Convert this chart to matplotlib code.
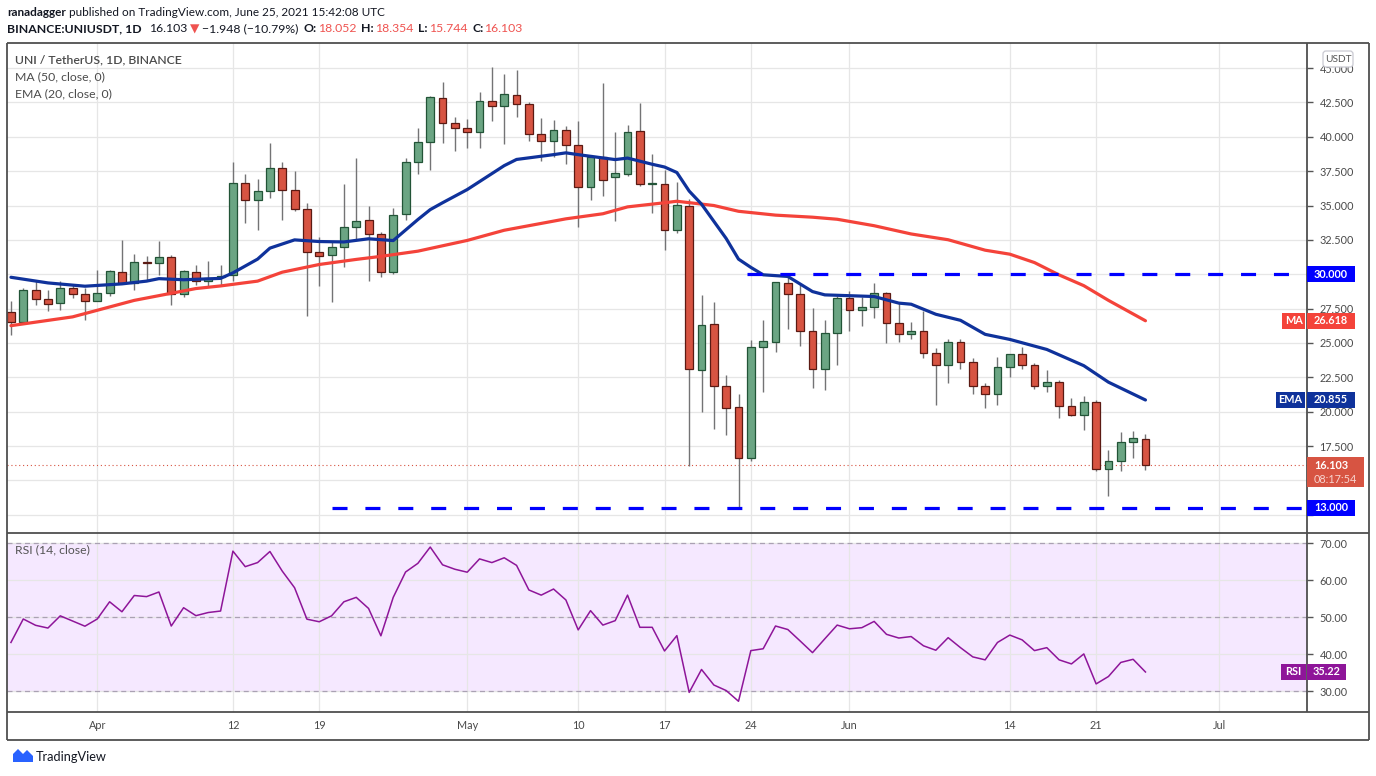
import numpy as np
import pandas as pd
import matplotlib
matplotlib.use("Agg")
import matplotlib.pyplot as plt
from matplotlib.patches import Rectangle, FancyBboxPatch, Polygon
from matplotlib.transforms import Affine2D
from matplotlib.lines import Line2D

# ---------------- data ----------------
start_date = "2021-03-25"

opens = [27.23, 26.53, 28.86, 28.20, 27.91, 29.00, 28.57, 28.06, 28.64, 30.17,
         29.37, 30.90, 30.83, 31.26, 28.57, 30.17, 29.51, 29.80, 29.95, 36.65,
         35.41, 36.07, 37.74, 36.14, 34.76, 31.63, 31.39, 32.00, 33.45, 33.96,
         32.94, 30.18, 34.37, 38.17, 39.62, 42.82, 41.00, 40.64, 40.35, 42.60,
         42.24, 43.04, 42.39, 40.21, 39.70, 40.50, 39.41, 36.36, 38.54, 37.08,
         37.30, 40.45, 36.57, 36.58, 33.19, 34.95, 23.07, 26.36, 21.90, 20.37,
         16.65, 24.68, 25.04, 29.35, 28.55, 25.85, 23.14, 25.70, 28.25, 27.40,
         27.60, 28.67, 26.45, 25.68, 25.90, 24.29, 23.41, 25.09, 23.63, 21.88,
         21.30, 23.27, 24.22, 23.41, 21.88, 22.17, 20.42, 19.76, 20.71, 15.82,
         16.41, 17.79, 18.052]
highs = [28.08, 29.00, 29.50, 28.88, 29.54, 29.32, 29.00, 30.34, 30.34, 32.52,
         31.50, 31.30, 32.45, 31.43, 30.34, 30.70, 31.00, 30.70, 38.20, 37.26,
         36.96, 39.58, 38.20, 37.54, 35.15, 32.72, 32.34, 36.60, 38.46, 34.95,
         33.04, 34.85, 38.49, 40.67, 42.95, 44.00, 41.42, 41.32, 43.28, 45.05,
         44.59, 44.88, 42.53, 41.39, 41.25, 40.76, 41.17, 38.60, 43.90, 40.33,
         40.88, 42.43, 38.78, 37.60, 36.70, 35.48, 28.50, 27.99, 22.66, 21.27,
         25.21, 26.67, 29.42, 29.88, 29.40, 27.57, 26.67, 28.42, 28.77, 28.38,
         29.35, 28.72, 27.94, 26.53, 27.33, 24.65, 25.26, 25.26, 23.92, 22.10,
         24.00, 24.22, 24.73, 23.56, 23.00, 22.34, 21.03, 21.13, 20.88, 17.23,
         18.55, 18.62, 18.354]
lows = [25.60, 26.45, 27.74, 27.30, 27.43, 28.28, 26.65, 28.03, 28.40, 29.32,
        28.88, 29.60, 29.98, 27.74, 28.33, 29.20, 29.13, 29.17, 29.49, 33.70,
        33.21, 35.53, 33.93, 34.59, 26.96, 29.14, 27.98, 30.54, 32.58, 29.50,
        29.79, 29.99, 33.98, 37.28, 37.57, 39.53, 38.95, 39.16, 39.16, 41.13,
        39.48, 41.44, 39.67, 38.22, 38.54, 38.03, 33.43, 35.39, 35.68, 33.86,
        37.13, 36.45, 34.44, 31.73, 33.00, 16.02, 19.98, 18.77, 18.28, 13.05,
        16.40, 21.44, 24.36, 26.04, 24.80, 21.76, 21.56, 23.39, 25.90, 26.26,
        26.84, 25.00, 25.07, 25.29, 23.90, 20.47, 22.10, 23.12, 21.27, 20.27,
        20.52, 22.54, 23.12, 21.66, 21.42, 19.52, 19.70, 18.64, 15.72, 13.90,
        15.72, 16.60, 15.744]
closes = [26.53, 28.86, 28.20, 27.84, 29.00, 28.57, 28.06, 28.64, 30.24, 29.37,
          30.90, 30.80, 31.26, 28.57, 30.24, 29.49, 29.70, 29.88, 36.65, 35.41,
          36.07, 37.74, 36.14, 34.76, 31.63, 31.34, 32.00, 33.45, 33.89, 32.94,
          30.18, 34.32, 38.17, 39.62, 42.89, 41.00, 40.64, 40.35, 42.60, 42.24,
          43.11, 42.39, 40.21, 39.70, 40.50, 39.41, 36.36, 38.54, 36.86, 37.37,
          40.38, 36.57, 36.60, 33.19, 35.07, 23.14, 26.28, 21.90, 20.30, 16.65,
          24.68, 25.12, 29.42, 28.55, 25.85, 23.14, 25.70, 28.25, 27.40, 27.60,
          28.67, 26.45, 25.68, 25.90, 24.29, 23.41, 25.09, 23.63, 21.88, 21.30,
          23.27, 24.22, 23.41, 21.88, 22.17, 20.42, 19.76, 20.71, 15.82, 16.41,
          17.79, 18.08, 16.103]

rsi_values = [43.2, 49.55, 47.84, 47.1, 50.4, 49.0, 47.6, 49.55, 54.2, 51.5,
              55.9, 55.6, 56.85, 47.65, 52.6, 50.45, 51.3, 51.7, 67.9, 63.7,
              64.8, 67.8, 62.5, 58.0, 49.5, 48.8, 50.4, 54.2, 55.4, 52.4,
              45.0, 55.4, 62.25, 64.6, 69.0, 64.2, 63.0, 62.2, 65.8, 64.8,
              66.1, 64.05, 57.4, 56.0, 57.65, 54.7, 46.6, 51.8, 47.9, 49.1,
              56.0, 47.3, 47.3, 40.9, 45.05, 29.7, 35.9, 31.7, 30.2, 27.3,
              41.0, 41.5, 47.65, 46.7, 43.6, 40.45, 44.2, 47.9, 46.9, 47.2,
              48.9, 45.4, 44.4, 44.8, 42.3, 41.1, 44.5, 41.8, 39.3, 38.5,
              43.2, 45.2, 43.9, 41.0, 41.8, 38.5, 37.4, 40.1, 32.0, 34.0,
              37.8, 38.65, 35.22]

# moving averages (day number since start, value)
ema_days = [0, 3, 6, 9, 11, 12, 14, 17, 18, 20, 21, 23, 25, 27, 29, 31, 33, 34, 35, 37,
            40, 41, 44, 45, 46, 49, 50, 52, 53, 54, 55, 56, 57, 58, 59, 60, 61, 63, 65, 66,
            70, 72, 73, 75, 77, 79, 81, 84, 87, 89, 92]
ema_vals = [29.78, 29.37, 29.13, 29.30, 29.50, 29.68, 29.60, 29.70, 30.10, 31.10,
            31.90, 32.50, 32.38, 32.35, 32.58, 32.45, 33.98, 34.70, 35.20, 36.16,
            37.90, 38.35, 38.70, 38.83, 38.70, 38.34, 38.45, 38.00, 37.80, 37.40,
            36.05, 35.10, 33.85, 32.60, 31.10, 30.50, 29.96, 29.84, 28.74, 28.50,
            28.38, 27.90, 27.82, 27.09, 26.65, 25.63, 25.26, 24.53, 23.35, 22.15,
            20.855]
ma_days = [0, 5, 10, 15, 17, 20, 22, 25, 28, 30, 33, 37, 40, 45, 48, 50, 53, 54, 57,
           59, 62, 65, 67, 70, 73, 76, 79, 81, 83, 85, 87, 89, 92]
ma_vals = [26.26, 26.90, 28.10, 28.96, 29.15, 29.50, 30.15, 30.71, 31.08, 31.30,
           31.68, 32.46, 33.20, 34.03, 34.40, 34.90, 35.20, 35.31, 35.00, 34.58,
           34.30, 34.15, 34.00, 33.53, 32.93, 32.51, 31.75, 31.46, 30.85, 29.95,
           29.17, 28.10, 26.618]

resistance_level = 30.0
resistance_from = "2021-05-24"
support_level = 13.0
support_from = "2021-04-20"

price_ticks = [12.5, 15.0, 17.5, 20.0, 22.5, 25.0, 27.5, 30.0, 32.5, 35.0, 37.5,
               40.0, 42.5, 45.0]
hidden_price_labels = [12.5, 15.0, 30.0]   # covered by the marker boxes
rsi_ticks = [30, 40, 50, 60, 70]
xtick_dates = ["2021-04-01", "2021-04-12", "2021-04-19", "2021-05-01", "2021-05-10",
               "2021-05-17", "2021-05-24", "2021-06-01", "2021-06-14", "2021-06-21",
               "2021-07-01"]
xtick_labels = ["Apr", "12", "19", "May", "10", "17", "24", "Jun", "14", "21", "Jul"]

last_price = 16.103
ma_last = 26.618
ema_last = 20.855
rsi_last = 35.22

# ---------------- style ----------------
W, H = 1376, 776
plt.rcParams['font.family'] = ['Lato', 'DejaVu Sans']
GREEN, GREEN_E = '#6ba583', '#225437'
RED, RED_E = '#d75442', '#5b1a13'
WICK = '#737375'
EMA_C = '#0f329b'
MA_C = '#f4433a'
LINE_BLUE = '#0000ff'
RSI_C = '#8e1599'
GRID = '#e6e6e6'
TXT = '#4a4a4a'
FRAME = '#4f4f4f'

fig = plt.figure(figsize=(W / 100, H / 100), dpi=100)
fig.patch.set_facecolor('white')
tr = Affine2D().scale(1, -1).translate(0, H)   # top-left pixel coordinates

L, R, T, MB, RB, BB, RR = 7, 1307, 43, 533, 712, 740, 1369
ax = fig.add_axes([L / W, 1 - MB / H, (R - L) / W, (MB - T) / H])
axr = fig.add_axes([L / W, 1 - RB / H, (R - L) / W, (RB - MB) / H], sharex=ax)

dates = pd.date_range(start_date, periods=len(closes), freq="D")
xs = np.asarray((dates - dates[0]).days, dtype=float)
o, h, l, c = map(np.asarray, (opens, highs, lows, closes))
tick_pos = np.asarray((pd.to_datetime(xtick_dates) - dates[0]).days, dtype=float)

ax.set_xlim(-0.32, 105.1)
ax.set_ylim(11.18, 46.82)
axr.set_ylim(24.4, 72.8)

for a in (ax, axr):
    for s in a.spines.values():
        s.set_visible(False)
    a.set_facecolor('white')
    a.set_xticks(tick_pos)
    a.yaxis.tick_right()
    a.tick_params(axis='y', length=4, width=1, color='#555555', pad=5,
                  labelsize=7.8, labelcolor=TXT)
    a.grid(True, color=GRID, lw=0.9, zorder=0)
    a.set_axisbelow(True)

ax.tick_params(axis='x', length=0, labelbottom=False)
axr.tick_params(axis='x', length=0, pad=6, labelsize=7.8, labelcolor=TXT)
axr.set_xticklabels(xtick_labels)
ax.set_yticks(price_ticks)
ax.set_yticklabels(["" if v in hidden_price_labels else f"{v:.3f}" for v in price_ticks])
axr.set_yticks(rsi_ticks)
axr.set_yticklabels([f"{v:.2f}" for v in rsi_ticks])

# ---------------- candles ----------------
up = c >= o
ax.vlines(xs, l, h, color=WICK, lw=1.0, zorder=2)
body_lo = np.minimum(o, c)
body_h = np.maximum(np.abs(c - o), 0.06)
ax.bar(xs[up], body_h[up], bottom=body_lo[up], width=0.64, color=GREEN,
       edgecolor=GREEN_E, linewidth=0.9, zorder=3)
ax.bar(xs[~up], body_h[~up], bottom=body_lo[~up], width=0.64, color=RED,
       edgecolor=RED_E, linewidth=0.9, zorder=3)

ax.plot(ma_days, ma_vals, color=MA_C, lw=2.3, zorder=4, solid_capstyle='round')
ax.plot(ema_days, ema_vals, color=EMA_C, lw=2.3, zorder=4, solid_capstyle='round')

xmax = ax.get_xlim()[1]
r0 = (pd.Timestamp(resistance_from) - dates[0]).days
s0 = (pd.Timestamp(support_from) - dates[0]).days
ax.hlines(resistance_level, r0 - 0.3, xmax, color=LINE_BLUE, lw=2.3,
          linestyle=(0, (4.7, 5.6)), zorder=5)
ax.hlines(support_level, s0, xmax, color=LINE_BLUE, lw=2.3,
          linestyle=(0, (4.7, 5.6)), zorder=5)
ax.axhline(last_price, color=RED, lw=0.8, linestyle=(0, (1, 2.5)), zorder=1)

# ---------------- RSI ----------------
axr.axhspan(30, 70, color='#f5e8ff', zorder=0.1, lw=0)
for lv in (70, 50, 30):
    axr.axhline(lv, color='#aaa1b3', lw=0.9, linestyle=(0, (4, 3)), zorder=1)
axr.plot(xs, rsi_values, color=RSI_C, lw=1.1, zorder=4)

# ---------------- frame ----------------
def px_line(x0, y0, x1, y1, lw=1.3, color=FRAME):
    fig.add_artist(Line2D([x0, x1], [y0, y1], transform=tr, color=color, lw=lw,
                          solid_capstyle='butt'))

px_line(L, T, RR, T)
px_line(L, BB, RR, BB)
px_line(L, T, L, BB)
px_line(RR, T, RR, BB)
px_line(L, MB, RR, MB)
px_line(L, RB, RR, RB)
px_line(R, T, R, RB)

# ---------------- labels on price scale ----------------
def ytop(a, v):
    return H - a.transData.transform((0, v))[1]

def box(x0, yc, w, hgt, fc, text, tc='white', size=7.8, weight='normal'):
    fig.add_artist(Rectangle((x0, yc - hgt / 2), w, hgt, transform=tr, fc=fc,
                             ec='none', zorder=5))
    fig.text(x0 + w / 2, yc, text, transform=tr, color=tc, fontsize=size, weight=weight,
             ha='center', va='center', zorder=6)

box(R, ytop(ax, resistance_level), 48, 16, LINE_BLUE, f"{resistance_level:.3f}", weight='bold')
box(R, ytop(ax, support_level), 48, 16, LINE_BLUE, f"{support_level:.3f}", weight='bold')
yma = ytop(ax, ma_last)
box(1282, yma, 23, 16, MA_C, "MA", weight='bold')
box(R, yma, 48, 16, MA_C, f"{ma_last:.3f}", weight='bold')
yema = ytop(ax, ema_last)
box(1276, yema, 29, 16, EMA_C, "EMA", weight='bold')
box(R, yema, 48, 16, EMA_C, f"{ema_last:.3f}", weight='bold')
ylp = ytop(ax, last_price)
fig.add_artist(Rectangle((R, ylp - 8), 57, 30, transform=tr, fc=RED, ec='none', zorder=5))
fig.text(R + 7, ylp, f"{last_price:.3f}", transform=tr, color='white', fontsize=7.8,
         weight='bold', ha='left', va='center', zorder=6)
fig.text(R + 7, ylp + 14, "08:17:54", transform=tr, color='#f7d4cf', fontsize=7.8,
         ha='left', va='center', zorder=6)
yrsi = ytop(axr, rsi_last)
box(1281, yrsi, 25, 16, RSI_C, "RSI", weight='bold')
box(R, yrsi, 39, 16, RSI_C, f"{rsi_last:.2f}", weight='bold')

# USDT button
fig.add_artist(FancyBboxPatch((1323, 51), 30, 16, boxstyle="round,pad=0,rounding_size=3",
                              transform=tr, fc='white', ec='#c9c9d1', lw=0.9, zorder=5))
fig.text(1338, 59, "USDT", transform=tr, color='#555555', fontsize=7.3,
         ha='center', va='center', zorder=6)

# ---------------- legends ----------------
fig.text(15, 60, "UNI / TetherUS, 1D, BINANCE", transform=tr, color='#4b4b4b',
         fontsize=8.8, weight='semibold', va='center')
fig.text(15, 77, "MA (50, close, 0)", transform=tr, color='#4b4b4b', fontsize=8.8, va='center')
fig.text(15, 94, "EMA (20, close, 0)", transform=tr, color='#4b4b4b', fontsize=8.8, va='center')
fig.text(15, 550, "RSI (14, close)", transform=tr, color='#555555', fontsize=8.8, va='center')

# ---------------- header ----------------
renderer = fig.canvas.get_renderer()

def runs(x, y, items, size):
    for s, wgt, col, gap in items:
        t = fig.text(x, y, s, transform=tr, fontsize=size, fontweight=wgt, color=col,
                     ha='left', va='center')
        x += t.get_window_extent(renderer).width + gap

K = '#131722'
RT = '#ef5350'
runs(7, 12, [("ranadagger", 'bold', K, 3.5),
             ("published on TradingView.com, June 25, 2021 15:42:08 UTC", 'normal', K, 0)], 8.5)
runs(7, 29, [("BINANCE:UNIUSDT, 1D", 'bold', K, 7),
             ("16.103", 'normal', K, 3),
             ("\u25BC", 'normal', RT, 3),
             ("\u22121.948 (\u221210.79%)", 'normal', K, 5),
             ("O:", 'bold', K, 1), ("18.052", 'normal', RT, 5),
             ("H:", 'bold', K, 1), ("18.354", 'normal', RT, 5),
             ("L:", 'bold', K, 1), ("15.744", 'normal', RT, 5),
             ("C:", 'bold', K, 1), ("16.103", 'normal', RT, 0)], 8.8)

# ---------------- footer logo ----------------
fig.add_artist(Polygon([(13, 762), (13, 754), (18, 749), (23, 754), (27, 750),
                        (33, 756), (33, 762)], closed=True, transform=tr,
                       fc='#2962ff', ec='none', zorder=5))
fig.text(36, 757, "TradingView", transform=tr, color='#131722', fontsize=9.2,
         va='center', ha='left')

fig.savefig("out.png", dpi=100, facecolor='white')
